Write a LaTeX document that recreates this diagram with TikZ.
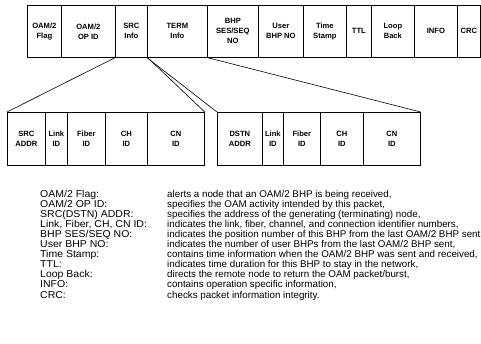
\documentclass[tikz,border=0pt]{standalone}
\usepackage{fontspec}
\setmainfont{Liberation Sans}
\newfontfamily\termfont[FakeStretch=1.05]{Liberation Sans}
\tikzset{
    field/.style={draw, line width=0.7pt, inner sep=0pt, anchor=north west,
        align=center, font=\bfseries\fontsize{7.6}{10}\selectfont},
    termtext/.style={anchor=base west, inner sep=0pt, font=\termfont\fontsize{10}{10}\selectfont},
    desctext/.style={anchor=base west, inner sep=0pt, font=\fontsize{9.8}{10}\selectfont},
    fan/.style={line width=0.6pt}
}
\begin{document}
\begin{tikzpicture}[y=-1pt,x=1pt]
    \useasboundingbox (0,0) rectangle (481,343);
    % header fields
    \foreach \lft/\rgt/\txt [count=\i] in {27/61/{OAM/2\\Flag}, 61/115/{OAM/2\\OP ID},
        115/147/{SRC\\Info}, 147/207/{TERM\\Info}, 207/258/{BHP\\SES/SEQ\\NO},
        258/303/{User\\BHP NO}, 303/346/{Time\\Stamp}, 346/371/{TTL},
        371/414/{Loop\\Back}, 414/457/{INFO}, 457/480/{CRC}} {
        \node[field, minimum width={(\rgt-\lft)*1pt}, minimum height=52pt] (t\i) at (\lft,5) {\txt};
    }
    % source info fields
    \foreach \lft/\rgt/\txt [count=\i] in {7/45/{SRC\\ADDR}, 45/67/{Link\\ID},
        67/105/{Fiber\\ID}, 105/147/{CH\\ID}, 147/204/{CN\\ID}} {
        \node[field, minimum width={(\rgt-\lft)*1pt}, minimum height=53pt] (s\i) at (\lft,112) {\txt};
    }
    % terminating info fields
    \foreach \lft/\rgt/\txt [count=\i] in {217/262/{DSTN\\ADDR}, 262/283/{Link\\ID},
        283/320/{Fiber\\ID}, 320/363/{CH\\ID}, 363/420/{CN\\ID}} {
        \node[field, minimum width={(\rgt-\lft)*1pt}, minimum height=53pt] (d\i) at (\lft,112) {\txt};
    }
    \draw[fan] (t3.south west) -- (s1.north west);
    \draw[fan] (t3.south east) -- (s5.north east);
    \draw[fan] (t4.south west) -- (d1.north west);
    \draw[fan] (t4.south east) -- (d5.north east);
    % legend
    \foreach \lbl/\txt [count=\i from 0] in {
        {OAM/2 Flag:}/{alerts a node that an OAM/2 BHP is being received,},
        {OAM/2 OP ID:}/{specifies the OAM activity intended by this packet,},
        {SRC(DSTN) ADDR:}/{specifies the address of the generating (terminating) node,},
        {Link, Fiber, CH, CN ID:}/{indicates the link, fiber, channel, and connection identifier numbers,},
        {BHP SES/SEQ NO:}/{indicates the position number of this BHP from the last OAM/2 BHP sent},
        {User BHP NO:}/{indicates the number of user BHPs from the last OAM/2 BHP sent,},
        {Time Stamp:}/{contains time information when the OAM/2 BHP was sent and received,},
        {TTL:}/{indicates time duration for this BHP to stay in the network,},
        {Loop Back:}/{directs the remote node to return the OAM packet/burst,},
        {INFO:}/{contains operation specific information,},
        {CRC:}/{checks packet information integrity.}} {
        \node[termtext] (term\i) at (40,{197+10.1*\i}) {\lbl};
        \node[desctext] (desc\i) at (167,{197+10.1*\i}) {\txt};
    }
\end{tikzpicture}
\end{document}
